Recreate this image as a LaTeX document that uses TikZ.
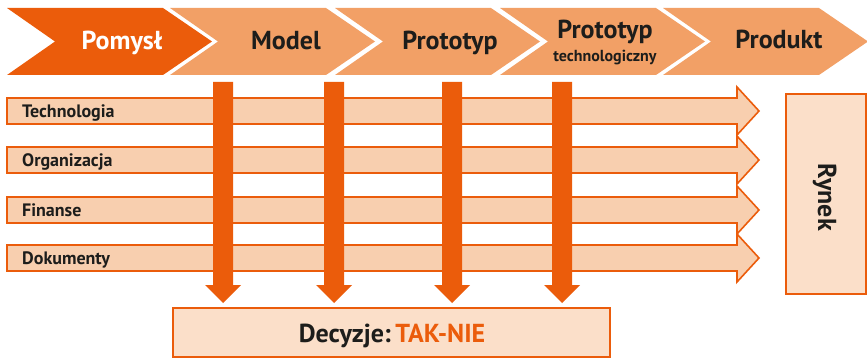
\documentclass[tikz,border=0pt]{standalone}
\usepackage{fontspec}
\setmainfont{PT Sans}
\definecolor{dark}{HTML}{EB5C0B}
\definecolor{chev}{HTML}{F2A066}
\definecolor{barf}{HTML}{F8CFAF}
\definecolor{boxf}{HTML}{FBDFC9}
\definecolor{txt}{HTML}{1D1D1B}
\tikzset{
  chevdark/.style={fill=dark,draw=none},
  chevlight/.style={fill=chev,draw=none},
  chevtext/.style={font=\bfseries\fontsize{26}{28}\selectfont,text=txt,inner sep=0pt,anchor=base},
  subtext/.style={font=\bfseries\fontsize{16}{18}\selectfont,text=txt,inner sep=0pt,anchor=base},
  hbar/.style={fill=barf,draw=dark,line width=1.6pt,line join=miter},
  barlabel/.style={font=\bfseries\fontsize{18}{20}\selectfont,text=txt,inner sep=0pt,anchor=base west},
  varrow/.style={fill=dark,draw=none},
  decbox/.style={fill=boxf,draw=dark,line width=1.6pt,minimum width=437pt,minimum height=49pt,inner sep=0pt},
  rynekbox/.style={fill=boxf,draw=dark,line width=1.6pt,minimum width=80pt,minimum height=200pt,inner sep=0pt}
}
\begin{document}
\begin{tikzpicture}[x=1pt,y=-1pt]
\useasboundingbox (0,0) rectangle (867,358);
% chevrons
\foreach \x [count=\i] in {7,170,335,500,663}{
  \ifnum\i=1
    \fill[chevdark] (\x,8) -- (\x+156,8) -- (\x+205,41.5) -- (\x+156,75) -- (\x,75) -- (\x+48,41.5) -- cycle;
  \else
    \fill[chevlight] (\x,8) -- (\x+156,8) -- (\x+205,41.5) -- (\x+156,75) -- (\x,75) -- (\x+48,41.5) -- cycle;
  \fi
}
\node[chevtext,text=white] (pomysl) at (122,49.5) {Pomysł};
\node[chevtext] (model) at (286,49.5) {Model};
\node[chevtext] (proto) at (450,49.5) {Prototyp};
\node[chevtext] (protot) at (605,39) {Prototyp};
\node[subtext] (techn) at (605,61.5) {technologiczny};
\node[chevtext] (produkt) at (779,49) {Produkt};
% horizontal bars
\foreach \t/\lab/\nm in {98/Technologia/tech,147/Organizacja/org,197/Finanse/fin,245/Dokumenty/dok}{
  \draw[hbar] (7,\t) -- (737,\t) -- (737,\t-11) -- (759,\t+13) -- (737,\t+37) -- (737,\t+26) -- (7,\t+26) -- cycle;
  \node[barlabel] (\nm) at (22,\t+19.5) {\lab};
}
% vertical arrows
\foreach \c in {223,334,452,562}{
  \fill[varrow] (\c-10,82) -- (\c+10,82) -- (\c+10,285) -- (\c+18,285) -- (\c,303) -- (\c-18,285) -- (\c-10,285) -- cycle;
}
% decision box
\node[decbox] (dec) at (391.5,332.5) {};
\node[font=\bfseries\fontsize{26}{28}\selectfont,text=txt,inner sep=0pt,anchor=base] (dect) at (392,342) {Decyzje:\,\textcolor{dark}{TAK-NIE}};
% market box
\node[rynekbox] (rynek) at (826,194) {};
\node[rotate=-90,font=\bfseries\fontsize{26}{28}\selectfont,text=txt,inner sep=0pt,anchor=base] (rynekt) at (818,197) {Rynek};
\end{tikzpicture}
\end{document}
